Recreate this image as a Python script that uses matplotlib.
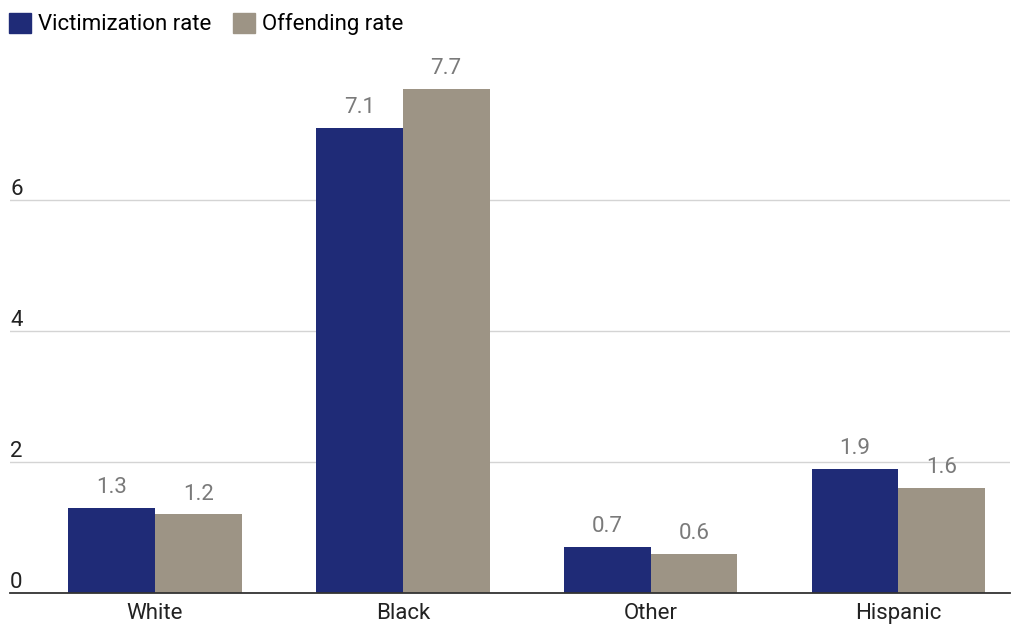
import numpy as np
import matplotlib
matplotlib.use("Agg")
import matplotlib.pyplot as plt
from matplotlib.patches import Patch

plt.rcParams['font.family'] = ['Roboto', 'DejaVu Sans']

groups = ["White", "Black", "Other", "Hispanic"]
victimization = [1.3, 7.1, 0.7, 1.9]
offending = [1.2, 7.7, 0.6, 1.6]
yticks = [0, 2, 4, 6]

navy = "#1f2b77"
taupe = "#9d9485"

fig = plt.figure(figsize=(10.11, 6.25), dpi=100)
ax = fig.add_axes([10 / 1011, 1 - 593 / 625, 1000 / 1011, (593 - 62.5) / 625])

x = np.arange(len(groups))
w = 0.35
b1 = ax.bar(x - w / 2, victimization, w, color=navy)
b2 = ax.bar(x + w / 2, offending, w, color=taupe)

for bars, vals in ((b1, victimization), (b2, offending)):
    for r, v in zip(bars, vals):
        ax.annotate(f"{v:.1f}", (r.get_x() + r.get_width() / 2, v),
                    xytext=(0, 7), textcoords="offset points",
                    ha="center", va="bottom", fontsize=16, color="#7a7a7a")

ax.set_xlim(-0.585, 3.45)
ax.set_ylim(0, 8.1)
ax.set_yticks(yticks)
ax.yaxis.grid(True, color="#d4d4d4", linewidth=1)
ax.set_axisbelow(True)
ax.tick_params(axis="y", length=0, labelleft=False)
ax.tick_params(axis="x", length=0, labelsize=16, pad=7, colors="#222222")
ax.set_xticks(x)
ax.set_xticklabels(groups)
for s in ("top", "right", "left"):
    ax.spines[s].set_visible(False)
ax.spines["bottom"].set_color("#333333")
ax.spines["bottom"].set_linewidth(1.3)

# y labels sit just above their gridlines at the left edge
for t in yticks:
    ax.text(0.0, t, str(t), transform=ax.get_yaxis_transform(),
            ha="left", va="bottom", fontsize=16, color="#222222")

handles = [Patch(color=navy), Patch(color=taupe)]
fig.legend(handles, ["Victimization rate", "Offending rate"],
           loc="upper left", bbox_to_anchor=(0.002, 0.99), ncol=2, frameon=False,
           fontsize=16, handlelength=1.0, handleheight=1.0, handletextpad=0.3,
           columnspacing=1.0, borderaxespad=0.0, borderpad=0.3)

fig.savefig("out.png", dpi=100)
